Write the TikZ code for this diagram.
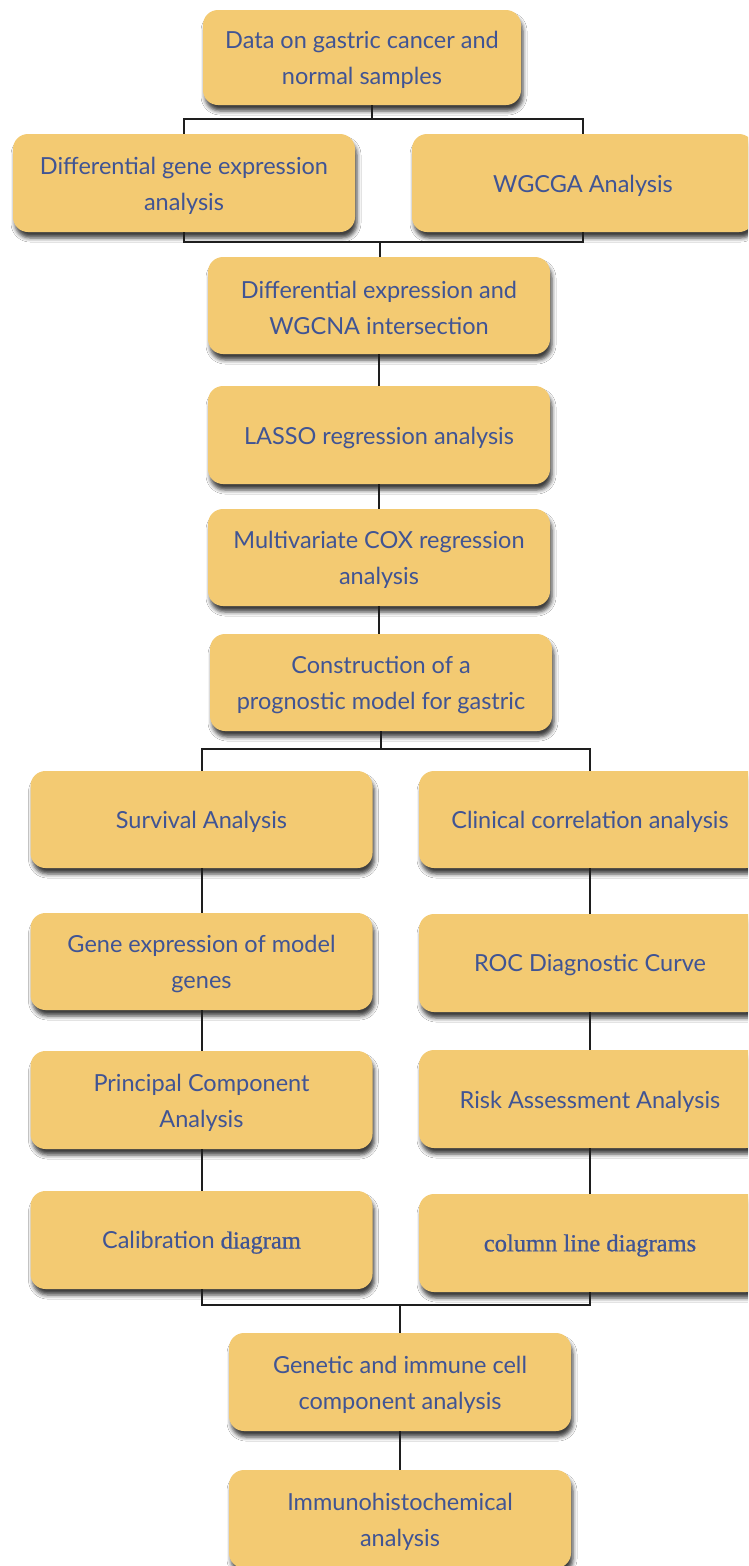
\documentclass[tikz,border=0pt]{standalone}
\usepackage{fontspec}
\setmainfont{Lato}
\newfontfamily\labelsans{Lato}
\newfontfamily\serifface[FakeBold=0.8]{Liberation Serif}
\usetikzlibrary{shadows.blur}
\definecolor{boxfill}{RGB}{243,202,114}
\definecolor{labelblue}{RGB}{64,84,148}
\definecolor{linkgray}{RGB}{30,30,30}

\newcommand{\serifpart}[1]{{\serifface\fontsize{24.5}{36}\selectfont #1}}

\begin{document}
\begin{tikzpicture}[x=1pt,y=-1pt,
  stage/.style={rectangle, rounded corners=15pt, fill=boxfill,
    minimum width=342pt, minimum height=97pt, inner sep=0pt,
    blur shadow={shadow xshift=2pt, shadow yshift=-6pt,
      shadow blur radius=4pt, shadow opacity=75}},
  caption/.style={align=center, text=labelblue, inner sep=0pt, yshift=-2.5pt,
    font=\labelsans\fontsize{23.5}{36}\selectfont},
  link/.style={draw=linkgray, line width=2pt}]

\clip (0,0) rectangle (748,1566);
\fill[white] (0,0) rectangle (748,1566);

% input data and the two first analyses
\node[stage, minimum width=318pt, minimum height=95pt] (data) at (362,57.5) {};
\node[caption] (data-t) at (data) {Data on gastric cancer and\\normal samples};
\node[stage, minimum height=98pt] (deg) at (184,183) {};
\node[caption] (deg-t) at (deg) {Differential gene expression\\analysis};
\node[stage, minimum height=98pt] (wgcna) at (583,183) {};
\node[caption] (wgcna-t) at (wgcna) {WGCGA Analysis};

% main trunk
\node[stage] (inter) at (379,305.5) {};
\node[caption] (inter-t) at (inter) {Differential expression and\\WGCNA intersection};
\node[stage, minimum height=98pt] (lasso) at (379,435) {};
\node[caption] (lasso-t) at (lasso) {LASSO regression analysis};
\node[stage] (cox) at (379,557.5) {};
\node[caption] (cox-t) at (cox) {Multivariate COX regression\\analysis};
\node[stage] (model) at (381,682.5) {};
\node[caption] (model-t) at (model) {Construction of a\\prognostic model for gastric};

% left branch
\node[stage] (surv) at (201.5,819.5) {};
\node[caption] (surv-t) at (surv) {Survival Analysis};
\node[stage] (gexp) at (201.5,961.5) {};
\node[caption] (gexp-t) at (gexp) {Gene expression of model\\genes};
\node[stage, minimum height=98pt] (pca) at (201.5,1100) {};
\node[caption] (pca-t) at (pca) {Principal Component\\Analysis};
\node[stage, minimum height=98pt] (calib) at (201.5,1240) {};
\node[caption] (calib-t) at (calib) {Calibration \serifpart{diagram}};

% right branch
\node[stage] (clin) at (590,819.5) {};
\node[caption] (clin-t) at (clin) {Clinical correlation analysis};
\node[stage, minimum height=98pt] (roc) at (590,963) {};
\node[caption] (roc-t) at (roc) {ROC Diagnostic Curve};
\node[stage, minimum height=98pt] (risk) at (590,1099) {};
\node[caption] (risk-t) at (risk) {Risk Assessment Analysis};
\node[stage, minimum height=98pt] (nomo) at (590,1243) {};
\node[caption] (nomo-t) at (nomo) {\serifpart{column line diagrams}};

% final steps
\node[stage, minimum height=98pt] (immune) at (400,1382) {};
\node[caption] (immune-t) at (immune) {Genetic and immune cell\\component analysis};
\node[stage, minimum height=98pt] (ihc) at (400,1519) {};
\node[caption] (ihc-t) at (ihc) {Immunohistochemical\\analysis};

% connectors
\coordinate (split1) at (372,119);
\coordinate (merge1) at (380,242);
\coordinate (split2) at (381,749);
\coordinate (merge2) at (400,1305);

\draw[link] (data.south -| split1) -- (split1);
\draw[link] (deg.north) |- (split1) -| (wgcna.north);
\draw[link] (deg.south) |- (merge1) -| (wgcna.south);
\draw[link] (merge1) -- (inter.north -| merge1);
\draw[link] (inter.south) -- (lasso.north);
\draw[link] (lasso.south) -- (cox.north);
\draw[link] (cox.south) -- (cox.south |- model.north);
\draw[link] (model.south) -- (split2);
\draw[link] (surv.north) |- (split2) -| (clin.north);
\draw[link] (surv.south) -- (gexp.north);
\draw[link] (gexp.south) -- (pca.north);
\draw[link] (pca.south) -- (calib.north);
\draw[link] (clin.south) -- (roc.north);
\draw[link] (roc.south) -- (risk.north);
\draw[link] (risk.south) -- (nomo.north);
\draw[link] (calib.south) |- (merge2) -| (nomo.south);
\draw[link] (merge2) -- (immune.north);
\draw[link] (immune.south) -- (ihc.north);
\end{tikzpicture}
\end{document}
